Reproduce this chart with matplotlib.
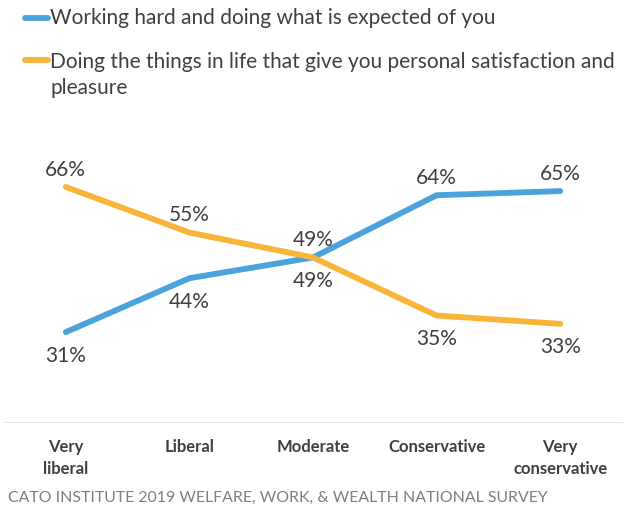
import matplotlib.pyplot as plt
import numpy as np

plt.rcParams['font.family'] = ['Lato', 'DejaVu Sans']

categories = ['Very\nliberal', 'Liberal', 'Moderate', 'Conservative', 'Very\nconservative']
working_hard = [31, 44, 49, 64, 65]
satisfaction = [66, 55, 49, 35, 33]
work_pos = ['below', 'below', 'above', 'above', 'above']
sat_pos = ['above', 'above', 'below', 'below', 'below']

blue = '#4BA3DB'
orange = '#F9B43A'
txt = '#404040'

fig = plt.figure(figsize=(6.27, 5.08), dpi=100)
ax = fig.add_axes([4/627, 0.169, 618/627, 0.512])
x = np.arange(len(categories))

ax.plot(x, working_hard, color=blue, lw=4.2, solid_capstyle='round', solid_joinstyle='round')
ax.plot(x, satisfaction, color=orange, lw=4.2, solid_capstyle='round', solid_joinstyle='round')

for vals, pos in [(working_hard, work_pos), (satisfaction, sat_pos)]:
    for i, v in enumerate(vals):
        dy = 12.5 if pos[i] == 'above' else -17
        ax.annotate(f'{v}%', (i, v), xytext=(0, dy), textcoords='offset points',
                    ha='center', va='center', fontsize=15, color=txt)

ax.set_xlim(-0.5, len(categories) - 0.5)
ax.set_ylim(9.3, 72)
ax.set_xticks(x)
ax.set_xticklabels(categories, fontsize=12, fontweight='bold', color=txt, linespacing=1.5)
ax.tick_params(axis='x', length=0, pad=12)
ax.set_yticks([])
for s in ['top', 'left', 'right']:
    ax.spines[s].set_visible(False)
ax.spines['bottom'].set_color('#e3e3e3')

# legend drawn by hand to match the layout
fig.lines.append(plt.Line2D([25/627, 48/627], [1 - 18/508, 1 - 18/508], color=blue, lw=4.2,
                            solid_capstyle='round', transform=fig.transFigure))
fig.lines.append(plt.Line2D([25/627, 48/627], [1 - 60/508, 1 - 60/508], color=orange, lw=4.2,
                            solid_capstyle='round', transform=fig.transFigure))
fig.text(50/627, 1 - 18/508, 'Working hard and doing what is expected of you',
         fontsize=15, color=txt, va='center')
fig.text(50/627, 1 - 52/508, 'Doing the things in life that give you personal satisfaction and\npleasure',
         fontsize=15, color=txt, va='top', linespacing=1.4)

fig.text(8/627, 1 - 498/508, 'CATO INSTITUTE 2019 WELFARE, WORK, & WEALTH NATIONAL SURVEY',
         fontsize=11.4, color='#7f7f7f', va='center')

fig.savefig('out.png', dpi=100)
